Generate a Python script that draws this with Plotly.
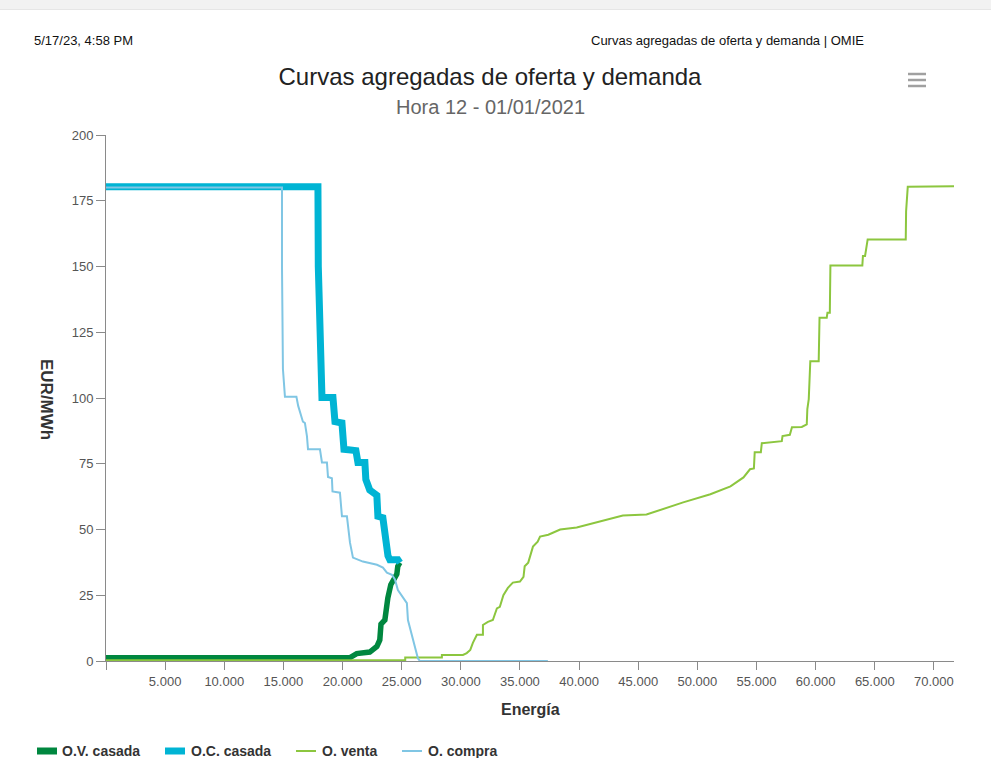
import plotly.graph_objects as go

# ---------------- data ----------------
ov_casada_x = [0, 20600, 21200, 22300, 22900, 23150, 23250, 23580, 23830, 24080, 24340, 24590, 24670, 24850]
ov_casada_y = [1.2, 1.2, 2.8, 3.4, 5.5, 8, 14, 15.6, 24, 29, 31, 33, 36, 37.4]

oc_casada_x = [0, 17920, 17950, 18100, 18260, 19190, 19360, 19950, 20120, 21130, 21300, 21890, 21970,
               22300, 22900, 22990, 23410, 23840, 24000, 24680, 24850]
oc_casada_y = [180.3, 180.3, 150, 111, 100.2, 100.2, 91, 90.5, 80.5, 80, 75.5, 75.5, 69,
               65, 63, 55, 54.5, 40, 38.5, 38.5, 37.4]

venta_x = [0, 25300, 25300, 28400, 28400, 30180, 30500, 30800, 31020, 31360, 31870, 31870, 32290, 32710,
           33050, 33300, 33600, 33980, 34400, 35000, 35300, 35400, 35700, 35900, 36100, 36500, 36700,
           37400, 37800, 38400, 39800, 41500, 43700, 45700, 48800, 51100, 52800, 53900, 54450, 54780,
           54850, 55370, 55450, 57140, 57200, 57820, 58000, 58830, 59250, 59300, 59420, 59550, 60260,
           60330, 60940, 61000, 61200, 61250, 63950, 64000, 64180, 64400, 67620, 67650, 67790, 71700]
venta_y = [0.3, 0.3, 1.3, 1.3, 2.3, 2.3, 3, 4.2, 6.9, 10, 10, 13.7, 14.9, 15.6,
           20, 20.6, 25, 27.8, 29.8, 30.2, 32, 36, 37.4, 40.5, 43.5, 45.4, 47.3,
           48, 48.8, 50, 50.8, 52.7, 55.3, 55.7, 60.3, 63.4, 66.4, 69.8, 72.9, 73.2,
           79.4, 79.4, 82.8, 83.6, 85.5, 86, 88.9, 89, 90, 95.8, 99.6, 114, 114,
           130.5, 130.5, 132.4, 132.4, 150.4, 150.4, 154, 154, 160.3, 160.3, 171, 180.3, 180.5]

compra_x = [0, 14880, 14880, 14960, 15130, 16100, 16250, 16650, 16820, 16990, 17080, 18090, 18260,
            18680, 18770, 19100, 19150, 19780, 19950, 20370, 20630, 20880, 21720, 22910, 23415,
            23750, 24175, 24430, 24680, 25440, 25530, 25950, 26370, 26540, 37360]
compra_y = [180, 180, 150, 111, 100.5, 100.5, 97, 91, 90.5, 85.5, 80.5, 80.5, 75.5,
            75.5, 70, 69.5, 64.5, 64, 55, 55, 45, 39.3, 37.8, 36.6, 35.5,
            33.6, 32.8, 31, 27, 22, 15.6, 8, 1, 0, 0]

series_names = ["O.V. casada", "O.C. casada", "O. venta", "O. compra"]

x_tick_vals = [0, 5000, 10000, 15000, 20000, 25000, 30000, 35000, 40000, 45000, 50000, 55000, 60000, 65000, 70000]
x_tick_text = ["", "5.000", "10.000", "15.000", "20.000", "25.000", "30.000", "35.000", "40.000",
               "45.000", "50.000", "55.000", "60.000", "65.000", "70.000"]
y_tick_vals = [0, 25, 50, 75, 100, 125, 150, 175, 200]

title_text = "Curvas agregadas de oferta y demanda"
subtitle_text = "Hora 12 - 01/01/2021"
header_left = "5/17/23, 4:58 PM"
header_right = "Curvas agregadas de oferta y demanda | OMIE"
x_title = "Energía"
y_title = "EUR/MWh"

# ---------------- layout geometry ----------------
W_FIG, H_FIG = 991, 758
L, R, T, B = 106, 37, 135, 97
PW = W_FIG - L - R
PH = H_FIG - T - B


def px(x):
    return (x - L) / PW


def py(y):
    return (H_FIG - B - y) / PH


FONT = "Liberation Sans, Arial, sans-serif"

colors = ["#00873f", "#00b4d4", "#8cc63f", "#80c6e4"]
widths = [5.5, 7, 2, 2]

fig = go.Figure()
for name, xs, ys, c, w in zip(series_names,
                              [ov_casada_x, oc_casada_x, venta_x, compra_x],
                              [ov_casada_y, oc_casada_y, venta_y, compra_y],
                              colors, widths):
    fig.add_trace(go.Scatter(x=xs, y=ys, mode="lines", name=name,
                             line=dict(color=c, width=w), hoverinfo="x+y+name"))

fig.update_layout(
    width=W_FIG, height=H_FIG,
    margin=dict(l=L, r=R, t=T, b=B, pad=0),
    paper_bgcolor="white", plot_bgcolor="white",
    font=dict(family=FONT, color="#666666"),
    title=dict(text=title_text, x=490 / W_FIG, xanchor="center", xref="container",
               y=1 - 77 / H_FIG, yanchor="middle", yref="container",
               font=dict(family=FONT, size=24, color="#222222")),
    xaxis=dict(range=[0, 71700], tickmode="array", tickvals=x_tick_vals, ticktext=x_tick_text,
               showgrid=False, zeroline=False, showline=True, linecolor="#8a8a8a", linewidth=1,
               ticks="outside", ticklen=8, tickcolor="#8a8a8a", tickwidth=1,
               tickfont=dict(family=FONT, size=13, color="#555555")),
    yaxis=dict(range=[0, 200], tickmode="array", tickvals=y_tick_vals,
               showgrid=False, zeroline=False, showline=True, linecolor="#8a8a8a", linewidth=1,
               ticks="outside", ticklen=9, tickcolor="#8a8a8a", tickwidth=1,
               tickfont=dict(family=FONT, size=13, color="#555555")),
    showlegend=False,
)

annotations = [
    dict(text=subtitle_text, x=px(490), y=py(107), xref="paper", yref="paper",
         xanchor="center", yanchor="middle", showarrow=False,
         font=dict(family=FONT, size=20, color="#666666")),
    dict(text=header_left, x=px(32), y=py(40), xref="paper", yref="paper",
         xanchor="left", yanchor="middle", showarrow=False,
         font=dict(family=FONT, size=13, color="#111111")),
    dict(text=header_right, x=px(866), y=py(40), xref="paper", yref="paper",
         xanchor="right", yanchor="middle", showarrow=False,
         font=dict(family=FONT, size=13, color="#111111")),
    dict(text="<b>" + x_title + "</b>", x=px(530), y=py(709), xref="paper", yref="paper",
         xanchor="center", yanchor="middle", showarrow=False,
         font=dict(family=FONT, size=16, color="#333333")),
    dict(text="<b>" + y_title + "</b>", x=px(47), y=py(399), xref="paper", yref="paper",
         xanchor="center", yanchor="middle", showarrow=False, textangle=90,
         font=dict(family=FONT, size=17, color="#333333")),
]

shapes = [
    dict(type="rect", xref="paper", yref="paper", x0=px(0), x1=px(W_FIG), y0=py(9), y1=py(0),
         fillcolor="#f2f2f2", line=dict(width=0), layer="below"),
    dict(type="line", xref="paper", yref="paper", x0=px(0), x1=px(W_FIG), y0=py(9.5), y1=py(9.5),
         line=dict(color="#e6e6e6", width=1)),
]
for yy in (74, 80, 86):
    shapes.append(dict(type="line", xref="paper", yref="paper", x0=px(908), x1=px(926),
                       y0=py(yy), y1=py(yy), line=dict(color="#a0a0a0", width=2.5)))

# manual legend (bottom-left, as in the reference)
legend_y = 751
legend_sym_x = [37, 165, 296, 402]
legend_text_x = [60, 189, 320, 426]
legend_is_bar = [True, True, False, False]
for name, c, sx, tx, bar in zip(series_names, colors, legend_sym_x, legend_text_x, legend_is_bar):
    if bar:
        shapes.append(dict(type="rect", xref="paper", yref="paper", x0=px(sx), x1=px(sx + 20),
                           y0=py(legend_y + 3.5), y1=py(legend_y - 3.5), fillcolor=c,
                           line=dict(width=0)))
    else:
        shapes.append(dict(type="line", xref="paper", yref="paper", x0=px(sx), x1=px(sx + 20),
                           y0=py(legend_y), y1=py(legend_y), line=dict(color=c, width=2)))
    annotations.append(dict(text="<b>" + name + "</b>", x=px(tx), y=py(legend_y), xref="paper",
                            yref="paper", xanchor="left", yanchor="middle", showarrow=False,
                            font=dict(family=FONT, size=14, color="#333333")))

fig.update_layout(annotations=annotations, shapes=shapes)

fig.write_html("out.html", config={"displayModeBar": False},
               post_script="document.body.style.margin='0';document.body.style.overflow='hidden';")
